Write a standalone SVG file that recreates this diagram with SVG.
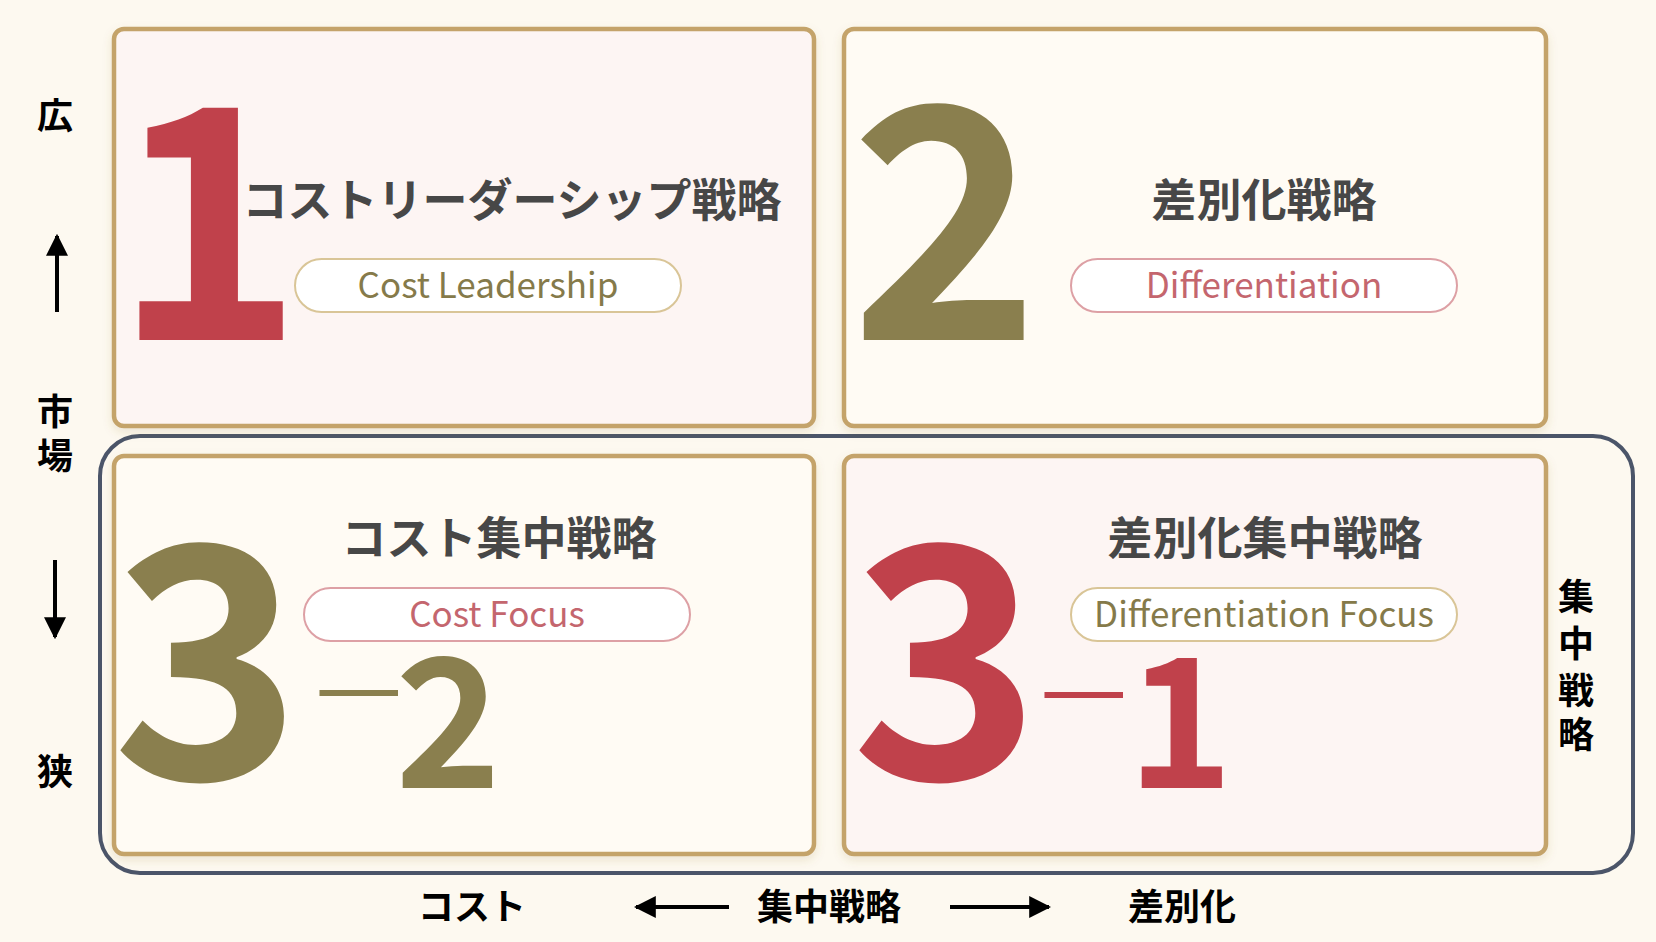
<svg xmlns="http://www.w3.org/2000/svg" width="1656" height="942" viewBox="0 0 1656 942">
<defs>
<filter id="sh" x="-5%" y="-5%" width="110%" height="115%">
<feDropShadow dx="0" dy="4" stdDeviation="5" flood-color="#8a6a30" flood-opacity="0.15"/>
</filter>
<marker id="ah" viewBox="0 0 10 10" refX="9" refY="5" markerWidth="5.5" markerHeight="5.5" orient="auto" markerUnits="strokeWidth">
<path d="M0,0 L10,5 L0,10 z" fill="#000"/>
</marker>
</defs>
<style>
.box{stroke:#C4A36A;stroke-width:4.5}
.pink{fill:#FDF5F3}
.cream{fill:#FFFBF4}
.title{font-family:"Noto Sans CJK JP","Noto Sans CJK SC",sans-serif;font-weight:700;font-size:45px;fill:#474747;text-anchor:middle}
.pill{fill:#FFFFFF;stroke-width:2}
.pg{stroke:#D9C597}
.pr{stroke:#DDA0A5}
.ptxt{font-family:"Noto Sans CJK JP",sans-serif;font-size:35px;text-anchor:middle}
.tr{fill:#C4666E}
.tg{fill:#857A4A}
.num{font-family:"Noto Sans CJK JP",sans-serif;font-weight:700;text-anchor:middle}
.red{fill:#C0414B}
.olv{fill:#8A7F4E}
.dash{font-family:"Noto Sans CJK JP",sans-serif;font-weight:400;font-size:98px}
.ax{font-family:"Noto Sans CJK JP","Noto Sans CJK SC",sans-serif;font-weight:700;font-size:36px;fill:#000;text-anchor:middle}
.arr{stroke:#000;stroke-width:4;fill:none}
</style>
<rect width="1656" height="942" fill="#FDF9F0"/>

<g id="focus-frame">
<rect x="100" y="436" width="1533" height="437" rx="40" fill="none" stroke="#4B5569" stroke-width="4"/>
</g>

<g id="q1">
<rect class="box pink" x="114" y="29" width="700" height="397" rx="10" filter="url(#sh)"/>
<text class="num red" x="208" y="340" font-size="322">1</text>
<text class="title" x="512" y="217">コストリーダーシップ戦略</text>
<rect class="pill pg" x="295" y="259" width="386" height="53" rx="26.5"/>
<text class="ptxt tg" x="488" y="298">Cost Leadership</text>
</g>

<g id="q2">
<rect class="box cream" x="844" y="29" width="702" height="397" rx="10" filter="url(#sh)"/>
<text class="num olv" x="945" y="340" font-size="322">2</text>
<text class="title" x="1264" y="217">差別化戦略</text>
<rect class="pill pr" x="1071" y="259" width="386" height="53" rx="26.5"/>
<text class="ptxt tr" x="1264" y="298">Differentiation</text>
</g>

<g id="q3">
<rect class="box cream" x="114" y="456" width="700" height="398" rx="10" filter="url(#sh)"/>
<text class="num olv" x="207" y="779" font-size="322">3</text>
<text class="dash olv" x="315" y="721">—</text>
<text class="num olv" x="448" y="788" font-size="180">2</text>
<text class="title" x="499" y="555">コスト集中戦略</text>
<rect class="pill pr" x="304" y="588" width="386" height="53" rx="26.5"/>
<text class="ptxt tr" x="497" y="627">Cost Focus</text>
</g>

<g id="q4">
<rect class="box pink" x="844" y="456" width="702" height="398" rx="10" filter="url(#sh)"/>
<text class="num red" x="946" y="779" font-size="322">3</text>
<text class="dash red" x="1040" y="723">—</text>
<text class="num red" x="1180" y="788" font-size="180">1</text>
<text class="title" x="1265" y="555">差別化集中戦略</text>
<rect class="pill pg" x="1071" y="588" width="386" height="53" rx="26.5"/>
<text class="ptxt tg" x="1264" y="627">Differentiation Focus</text>
</g>

<g id="axis-labels">
<text class="ax" x="55" y="129">広</text>
<text class="ax" x="55" y="425">市</text>
<text class="ax" x="55" y="469">場</text>
<text class="ax" x="55" y="785">狭</text>
<text class="ax" x="1576" y="610">集</text>
<text class="ax" x="1576" y="657">中</text>
<text class="ax" x="1576" y="704">戦</text>
<text class="ax" x="1576" y="748">略</text>
<text class="ax" x="472" y="920">コスト</text>
<text class="ax" x="829" y="920">集中戦略</text>
<text class="ax" x="1182" y="920">差別化</text>
</g>

<g id="connectors">
<line class="arr" x1="57" y1="312" x2="57" y2="236" marker-end="url(#ah)"/>
<line class="arr" x1="55" y1="560" x2="55" y2="637" marker-end="url(#ah)"/>
<line class="arr" x1="729" y1="907" x2="636" y2="907" marker-end="url(#ah)"/>
<line class="arr" x1="950" y1="907" x2="1049" y2="907" marker-end="url(#ah)"/>
</g>
</svg>
